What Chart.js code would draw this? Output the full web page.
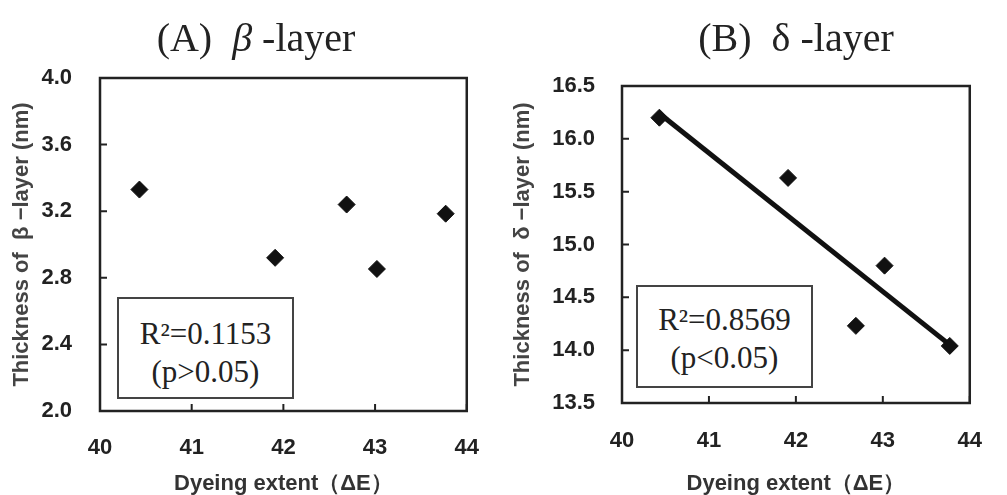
<!DOCTYPE html>
<html>
<head>
<meta charset="utf-8">
<script src="https://cdn.jsdelivr.net/npm/chart.js@4.4.1/dist/chart.umd.min.js"></script>
<style>
  body { margin: 0; background: #fff; }
  #wrap { position: relative; width: 1007px; height: 495px; overflow: hidden; }
  .panel { position: absolute; top: 0; height: 495px; }
  .title { position: absolute; font-family: "Liberation Serif", serif; font-size: 40px; color: #222; white-space: nowrap; transform: translate(-50%, -50%); }
  .stat { position: absolute; border: 2px solid #444; box-sizing: border-box; background: #fff;
          font-family: "Liberation Serif", serif; font-size: 31px; color: #222; text-align: center; line-height: 38px; }
</style>
</head>
<body>
<div id="wrap">
  <div class="panel" style="left:0;width:503px"><canvas id="chartA" width="503" height="495"></canvas></div>
  <div class="panel" style="left:503px;width:504px"><canvas id="chartB" width="504" height="495"></canvas></div>
  <div class="title" style="left:256px;top:37px">(A)&nbsp; <i>β</i> -layer</div>
  <div class="title" style="left:796px;top:37px">(B)&nbsp; δ -layer</div>
  <div class="stat" style="left:117px;top:297px;width:177px;height:102px;padding-top:16px">R²=0.1153<br>(p&gt;0.05)</div>
  <div class="stat" style="left:636px;top:285px;width:177px;height:103px;padding-top:14px">R²=0.8569<br>(p&lt;0.05)</div>
</div>
<script>
// values
const dyeingExtent = [40.43, 41.91, 42.69, 43.02, 43.77];
const betaThickness = [3.33, 2.92, 3.24, 2.853, 3.185];
const deltaThickness = [16.2, 15.63, 14.23, 14.8, 14.04];
const deltaFitX = [40.43, 43.77];
const deltaFitY = [16.24, 14.05];

const xTicks = [40, 41, 42, 43, 44];
const betaTicks = [2.0, 2.4, 2.8, 3.2, 3.6, 4.0];
const deltaTicks = [13.5, 14.0, 14.5, 15.0, 15.5, 16.0, 16.5];

const tickFont = { family: "Liberation Sans", size: 22, weight: "bold" };
const xTitleFont = { family: "Liberation Sans", size: 22, weight: "bold", lineHeight: 1.0 };
const yTitleFont = { family: "Liberation Sans", size: 22, weight: "bold", lineHeight: 1.0 };

// frame around plot area with small inward tick marks
const framePlugin = {
    id: "frame",
    afterDatasetsDraw(chart) {
        const ctx = chart.ctx;
        const a = chart.chartArea;
        const xs = chart.scales.x, ys = chart.scales.y;
        ctx.save();
        ctx.strokeStyle = "#222";
        ctx.lineWidth = 2.5;
        ctx.strokeRect(a.left, a.top, a.right - a.left, a.bottom - a.top);
        ctx.lineWidth = 2;
        ctx.beginPath();
        xs.ticks.forEach(t => {
            const px = xs.getPixelForValue(t.value);
            ctx.moveTo(px, a.bottom);
            ctx.lineTo(px, a.bottom - 7);
        });
        ys.ticks.forEach(t => {
            const py = ys.getPixelForValue(t.value);
            ctx.moveTo(a.left, py);
            ctx.lineTo(a.left + 7, py);
        });
        ctx.stroke();
        ctx.restore();
    }
};

function makeChart(id, yVals, yTicks, yTitle, dims, extra) {
    const datasets = [{
        type: "scatter",
        data: dyeingExtent.map((x, i) => ({ x: x, y: yVals[i] })),
        pointStyle: "rectRot",
        pointRadius: 8.5,
        backgroundColor: "#111",
        borderColor: "#111",
        borderWidth: 1,
        order: 0
    }];
    if (extra) datasets.push(extra);

    return new Chart(document.getElementById(id), {
        type: "scatter",
        data: { datasets: datasets },
        options: {
            responsive: false,
            animation: false,
            layout: { padding: { left: 0, top: dims.top, right: dims.right, bottom: 0 } },
            plugins: { legend: { display: false }, tooltip: { enabled: false } },
            scales: {
                x: {
                    type: "linear",
                    min: 40, max: 44,
                    afterBuildTicks: s => { s.ticks = xTicks.map(v => ({ value: v })); },
                    afterFit: s => { s.height = dims.xh; },
                    grid: { display: false, drawTicks: false },
                    border: { display: false },
                    ticks: { font: tickFont, color: "#222", padding: dims.xpad },
                    title: { display: true, text: "Dyeing extent（ΔE）", font: xTitleFont, color: "#333", padding: { top: 0, bottom: 0 } }
                },
                y: {
                    type: "linear",
                    min: yTicks[0], max: yTicks[yTicks.length - 1],
                    afterBuildTicks: s => { s.ticks = yTicks.map(v => ({ value: v })); },
                    afterFit: s => { s.width = dims.yw; },
                    grid: { display: false, drawTicks: false },
                    border: { display: false },
                    ticks: { font: tickFont, color: "#222", padding: dims.ypad, callback: v => v.toFixed(1) },
                    title: { display: true, text: yTitle, font: yTitleFont, color: "#444", padding: { top: dims.ytpad, bottom: 0 } }
                }
            }
        },
        plugins: [framePlugin]
    });
}

makeChart("chartA", betaThickness, betaTicks, "Thickness of  β −layer (nm)",
    { top: 78, right: 21, xh: 84, yw: 100, xpad: 24, ypad: 28, ytpad: 11 },
    null);

makeChart("chartB", deltaThickness, deltaTicks, "Thickness of  δ −layer (nm)",
    { top: 86, right: 15, xh: 92, yw: 119, xpad: 25, ypad: 27, ytpad: 9 },
    {
        type: "line",
        data: deltaFitX.map((x, i) => ({ x: x, y: deltaFitY[i] })),
        borderColor: "#111",
        borderWidth: 5,
        pointRadius: 0,
        fill: false,
        order: 1
    });
</script>
</body>
</html>
